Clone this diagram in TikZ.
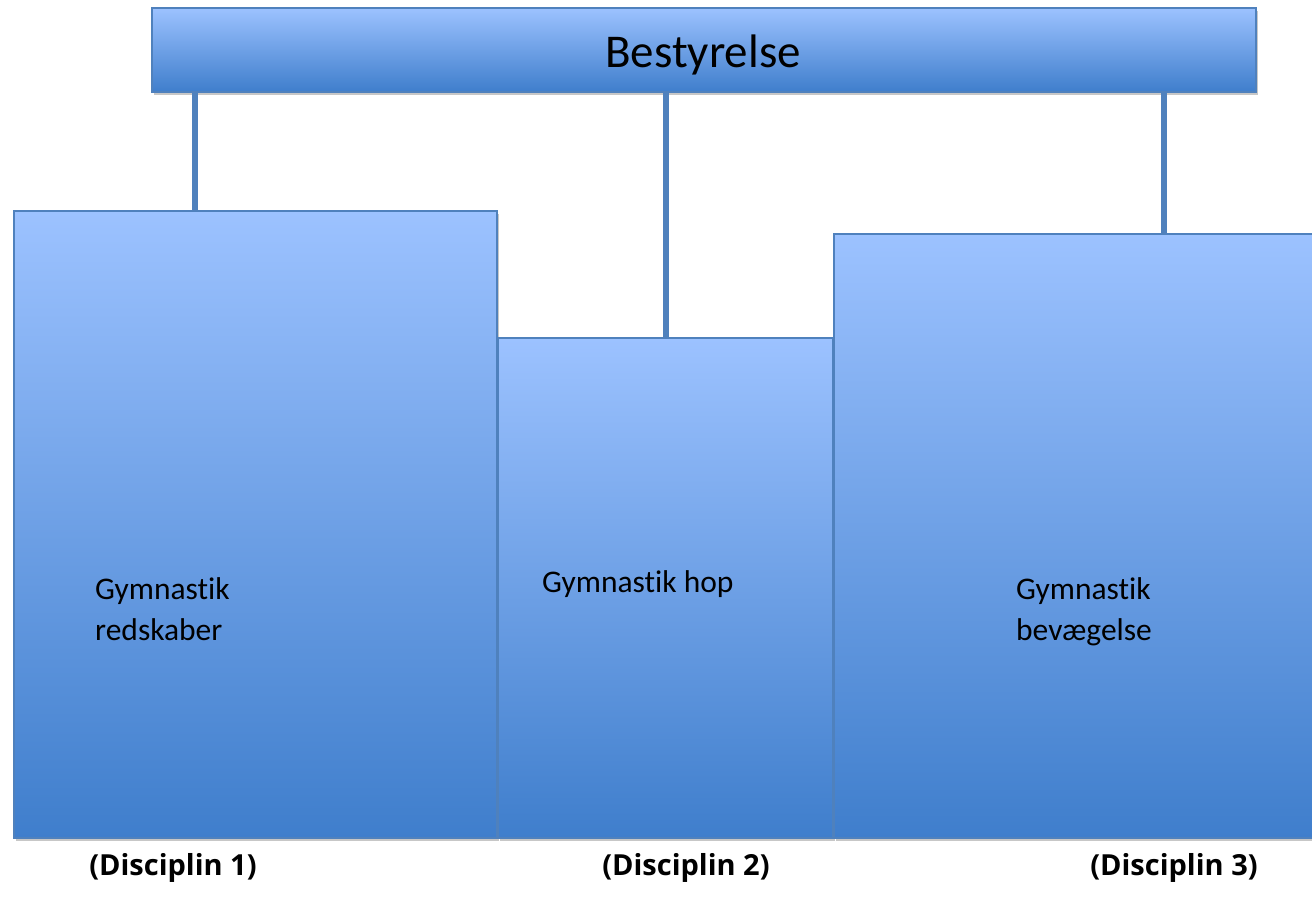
\documentclass[tikz,border=0pt]{standalone}
\usepackage{fontspec}
\setmainfont{Carlito}[Ligatures=NoCommon]
\newfontfamily\labfont{Open Sans}
\usetikzlibrary{shadows}
\definecolor{edgeblue}{RGB}{79,129,189}
\definecolor{topblue}{RGB}{156,194,255}
\definecolor{botblue}{RGB}{63,126,204}
\tikzset{
  x=1pt,y=1pt,
  orgbox/.style={draw=edgeblue, line width=1.2pt, top color=topblue, bottom color=botblue,
    anchor=south west, inner sep=0pt, outer sep=0pt,
    drop shadow={shadow xshift=2pt, shadow yshift=-3pt, opacity=0.22, fill=black}},
  link/.style={draw=edgeblue, line width=6pt},
  boxtext/.style={anchor=base west, align=left, inner sep=0pt, font=\fontsize{31.5}{41}\selectfont},
  disc/.style={anchor=base, inner sep=0pt, font=\labfont\bfseries\fontsize{29}{35}\selectfont}
}
\begin{document}
\begin{tikzpicture}
\useasboundingbox (0,0) rectangle (1312,909);
% top bar
\node[orgbox, minimum width=1104pt, minimum height=84pt] (bar) at (152,817) {};
\node[anchor=base, inner sep=0pt, font=\fontsize{47}{56}\selectfont] (bartext) at (703,841) {Bestyrelse};
% boxes
\node[orgbox, minimum width=483pt, minimum height=627pt] (b1) at (14,71) {};
\node[orgbox, minimum width=335pt, minimum height=500pt] (b2) at (498,71) {};
\node[orgbox, minimum width=490pt, minimum height=604pt] (b3) at (834,71) {};
% connector x positions
\coordinate (c1) at (195,0);
\coordinate (c2) at (666,0);
\coordinate (c3) at (1164,0);
\draw[link] (bar.south -| c1) -- (b1.north -| c1);
\draw[link] (bar.south -| c2) -- (b2.north -| c2);
\draw[link] (bar.south -| c3) -- (b3.north -| c3);
% texts
\node[boxtext] (t1) at (95,268) {Gymnastik\\redskaber};
\node[boxtext] (t2) at (542,316) {Gymnastik hop};
\node[boxtext] (t3) at (1016,268) {Gymnastik\\bevægelse};
\node[disc] (d1) at (173,33) {(Disciplin 1)};
\node[disc] (d2) at (686,33) {(Disciplin 2)};
\node[disc] (d3) at (1174,33) {(Disciplin 3)};
\end{tikzpicture}
\end{document}
